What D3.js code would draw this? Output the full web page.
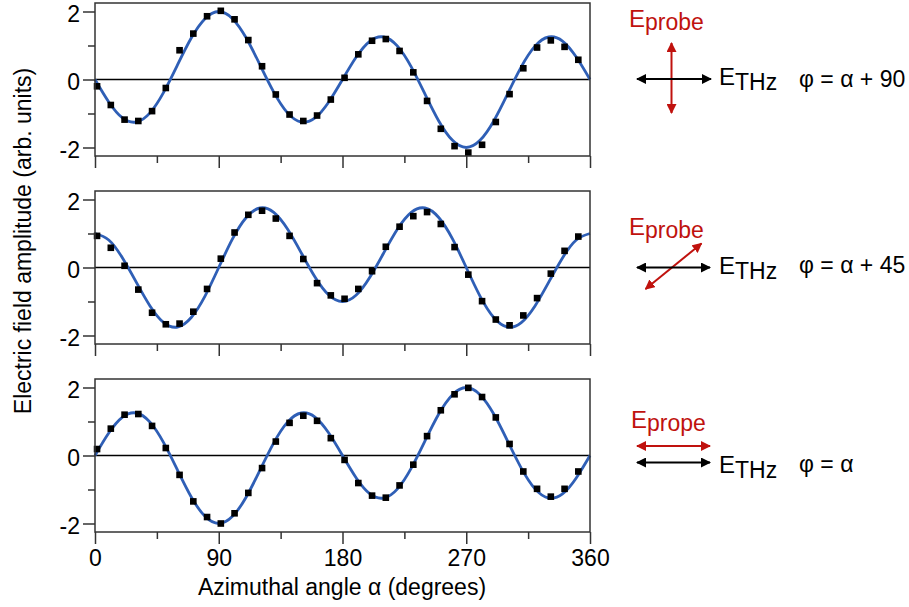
<!DOCTYPE html>
<html>
<head>
<meta charset="utf-8">
<script src="https://cdn.jsdelivr.net/npm/d3@7"></script>
<style>
  body { margin: 0; background: #fff; }
  text { font-family: "Liberation Sans", Arial, Helvetica, sans-serif; }
</style>
</head>
<body>
<div id="chart"></div>
<script>
// measured points, angle in degrees
var pointAngles = [1.5, 11.5, 21.5, 31.5, 41.5, 51.5, 61.5, 71.5, 81.5, 91.5, 101.5, 111.5,
    121.5, 131.5, 141.5, 151.5, 161.5, 171.5, 181.5, 191.5, 201.5, 211.5, 221.5, 231.5,
    241.5, 251.5, 261.5, 271.5, 281.5, 291.5, 301.5, 311.5, 321.5, 331.5, 341.5, 351.5];

var pointsTop = [-0.2, -0.75, -1.18, -1.22, -0.93, -0.25, 0.86, 1.35, 1.86, 2.02, 1.77, 1.16,
    0.39, -0.44, -1.03, -1.22, -1.06, -0.59, 0.05, 0.74, 1.14, 1.19, 0.84, 0.21,
    -0.63, -1.45, -1.96, -2.15, -1.92, -1.25, -0.43, 0.33, 0.94, 1.15, 0.96, 0.58];

var pointsMid = [0.93, 0.58, 0.05, -0.65, -1.33, -1.67, -1.65, -1.3, -0.63, 0.26, 1.03, 1.55,
    1.67, 1.44, 0.93, 0.25, -0.46, -0.82, -0.92, -0.63, -0.11, 0.61, 1.2, 1.51,
    1.63, 1.28, 0.6, -0.21, -0.99, -1.53, -1.7, -1.41, -0.9, -0.18, 0.49, 0.91];

var pointsBot = [0.19, 0.79, 1.2, 1.22, 0.87, 0.22, -0.57, -1.35, -1.81, -2.0, -1.7, -1.1,
    -0.37, 0.41, 0.96, 1.17, 1.02, 0.51, -0.13, -0.81, -1.18, -1.24, -0.88, -0.27,
    0.57, 1.33, 1.8, 1.99, 1.72, 1.12, 0.34, -0.47, -0.98, -1.21, -0.98, -0.47];

// fitted curves, read every 10 degrees
var curveAngles = d3.range(0, 361, 10);

var fitTop = [0, -0.66, -1.13, -1.25, -0.98, -0.37, 0.43, 1.22, 1.79, 2.0, 1.79, 1.22, 0.43,
    -0.37, -0.98, -1.25, -1.13, -0.66, 0, 0.66, 1.13, 1.25, 0.98, 0.37, -0.43, -1.22,
    -1.79, -2.0, -1.79, -1.22, -0.43, 0.37, 0.98, 1.25, 1.13, 0.66, 0];

var fitMid = [1.0, 0.81, 0.28, -0.43, -1.13, -1.62, -1.75, -1.47, -0.84, 0, 0.84, 1.47, 1.75,
    1.62, 1.13, 0.43, -0.28, -0.81, -1.0, -0.81, -0.28, 0.43, 1.13, 1.62, 1.75, 1.47,
    0.84, 0, -0.84, -1.47, -1.75, -1.62, -1.13, -0.43, 0.28, 0.81, 1.0];

var fitBot = [0, 0.66, 1.13, 1.25, 0.98, 0.37, -0.43, -1.22, -1.79, -2.0, -1.79, -1.22, -0.43,
    0.37, 0.98, 1.25, 1.13, 0.66, 0, -0.66, -1.13, -1.25, -0.98, -0.37, 0.43, 1.22,
    1.79, 2.0, 1.79, 1.22, 0.43, -0.37, -0.98, -1.25, -1.13, -0.66, 0];

var xTickLabels = [0, 90, 180, 270, 360];
var xMinorTicks = [45, 135, 225, 315];
var yTickLabels = [-2, 0, 2];
var yMinorTicks = [-1, 1];

var w = 909, h = 607;
var left = 95, plotW = 495, panelH = 153;
var panelTops = [3, 191, 379];
var red = "#c0120e", blue = "#2f5fb6";
var fs = "23px";

var svg = d3.select("#chart").append("svg")
    .attr("width", w)
    .attr("height", h);

var defs = svg.append("defs");
function addMarker(id, color) {
    defs.append("marker")
        .attr("id", id)
        .attr("viewBox", "0 0 10 10")
        .attr("refX", 9).attr("refY", 5)
        .attr("markerWidth", 5).attr("markerHeight", 5)
        .attr("markerUnits", "strokeWidth")
        .attr("orient", "auto-start-reverse")
        .append("path")
        .attr("d", "M0,0 L10,5 L0,10 Z")
        .attr("fill", color);
}
addMarker("arrBlack", "#000");
addMarker("arrRed", red);

var x = d3.scaleLinear().domain([0, 360]).range([left, left + plotW]);

var panels = [
    { top: panelTops[0], pts: pointsTop, fit: fitTop },
    { top: panelTops[1], pts: pointsMid, fit: fitMid },
    { top: panelTops[2], pts: pointsBot, fit: fitBot }
];

panels.forEach(function(p, i) {
    var y = d3.scaleLinear().domain([-2.25, 2.25]).range([p.top + panelH, p.top]);
    var g = svg.append("g");

    // zero line
    g.append("line")
        .attr("x1", x(0)).attr("x2", x(360))
        .attr("y1", y(0)).attr("y2", y(0))
        .attr("stroke", "#000").attr("stroke-width", 1.6);

    // fit curve
    var line = d3.line()
        .x(function(d, k) { return x(curveAngles[k]); })
        .y(function(d) { return y(d); })
        .curve(d3.curveNatural);
    g.append("path")
        .attr("d", line(p.fit))
        .attr("fill", "none")
        .attr("stroke", blue)
        .attr("stroke-width", 2.8);

    // data squares
    g.selectAll("rect.pt")
        .data(p.pts)
        .enter().append("rect")
        .attr("class", "pt")
        .attr("x", function(d, k) { return x(pointAngles[k]) - 3.3; })
        .attr("y", function(d) { return y(d) - 3.3; })
        .attr("width", 6.6).attr("height", 6.6)
        .attr("fill", "#000");

    // frame
    g.append("rect")
        .attr("x", x(0)).attr("y", p.top)
        .attr("width", plotW).attr("height", panelH)
        .attr("fill", "none")
        .attr("stroke", "#333").attr("stroke-width", 1.5);

    // y axis ticks
    var yAxis = d3.axisLeft(y).tickValues(yTickLabels).tickSize(12).tickSizeOuter(0)
        .tickFormat(function(d) { return d; });
    var ya = g.append("g").attr("transform", "translate(" + x(0) + ",0)").call(yAxis);
    ya.select(".domain").remove();
    ya.selectAll("line").attr("stroke", "#333").attr("stroke-width", 1.5);
    ya.selectAll("text")
        .attr("font-size", fs).attr("fill", "#000")
        .attr("font-family", "Liberation Sans, Arial, sans-serif")
        .attr("x", -15)
        .attr("dy", "0.42em");
    var yMinor = d3.axisLeft(y).tickValues(yMinorTicks).tickSize(7).tickFormat("");
    var ym = g.append("g").attr("transform", "translate(" + x(0) + ",0)").call(yMinor);
    ym.select(".domain").remove();
    ym.selectAll("line").attr("stroke", "#333").attr("stroke-width", 1.5);

    // x axis ticks
    var xAxis = d3.axisBottom(x).tickValues(xTickLabels).tickSize(12)
        .tickFormat(i == 2 ? function(d) { return d; } : "");
    var xa = g.append("g").attr("transform", "translate(0," + (p.top + panelH) + ")").call(xAxis);
    xa.select(".domain").remove();
    xa.selectAll("line").attr("stroke", "#333").attr("stroke-width", 1.5);
    xa.selectAll("text")
        .attr("font-size", fs).attr("fill", "#000")
        .attr("font-family", "Liberation Sans, Arial, sans-serif")
        .attr("y", 18);
    var xMinor = d3.axisBottom(x).tickValues(xMinorTicks).tickSize(7).tickFormat("");
    var xm = g.append("g").attr("transform", "translate(0," + (p.top + panelH) + ")").call(xMinor);
    xm.select(".domain").remove();
    xm.selectAll("line").attr("stroke", "#333").attr("stroke-width", 1.5);
});

// axis titles
svg.append("text")
    .attr("x", 342).attr("y", 595)
    .attr("text-anchor", "middle")
    .attr("font-size", fs)
    .text("Azimuthal angle α (degrees)");

svg.append("text")
    .attr("transform", "translate(31,241) rotate(-90)")
    .attr("text-anchor", "middle")
    .attr("font-size", fs)
    .text("Electric field amplitude (arb. units)");

// polarisation sketches on the right
function arrow(x1, y1, x2, y2, color, id) {
    svg.append("line")
        .attr("x1", x1).attr("y1", y1).attr("x2", x2).attr("y2", y2)
        .attr("stroke", color).attr("stroke-width", 2)
        .attr("marker-start", "url(#" + id + ")")
        .attr("marker-end", "url(#" + id + ")");
}
function label(xp, yp, main, sub, color, shift) {
    var t = svg.append("text")
        .attr("x", xp).attr("y", yp)
        .attr("font-size", "24px")
        .attr("fill", color);
    t.append("tspan").text(main);
    t.append("tspan").attr("dy", shift).attr("font-size", "23px").text(sub);
}

// top panel: phi = alpha + 90
arrow(671.5, 43, 671.5, 113, red, "arrRed");
arrow(637, 79, 711, 79, "#000", "arrBlack");
label(629, 27, "E", "probe", red, 3);
label(719, 85, "E", "THz", "#000", 5);
svg.append("text").attr("x", 799).attr("y", 87).attr("font-size", fs).text("φ = α + 90");

// middle panel: phi = alpha + 45
arrow(645.5, 289, 701.5, 243.5, red, "arrRed");
arrow(637, 267.5, 710, 267.5, "#000", "arrBlack");
label(629, 235, "E", "probe", red, 3);
label(719, 274, "E", "THz", "#000", 5);
svg.append("text").attr("x", 799).attr("y", 273).attr("font-size", fs).text("φ = α + 45");

// bottom panel: phi = alpha
arrow(637, 446, 710, 446, red, "arrRed");
arrow(637, 462.5, 710, 462.5, "#000", "arrBlack");
label(631, 428, "E", "prope", red, 3);
label(719, 473, "E", "THz", "#000", 5);
svg.append("text").attr("x", 799).attr("y", 472).attr("font-size", fs).text("φ = α");
</script>
</body>
</html>
